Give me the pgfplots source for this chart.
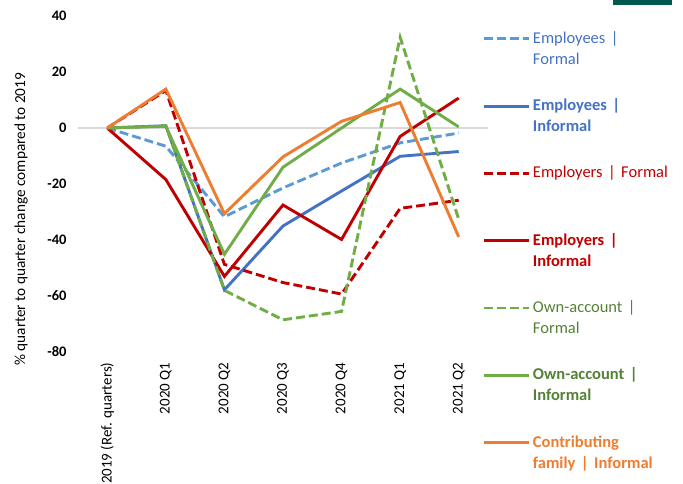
\documentclass[border=0pt]{standalone}
\usepackage{fontspec}
\setmainfont{Carlito}
\usepackage{pgfplots}
\pgfplotsset{compat=1.18}

\definecolor{empF}{HTML}{5B9BD5}
\definecolor{empI}{HTML}{4472C4}
\definecolor{emr}{HTML}{C00000}
\definecolor{own}{HTML}{70AD47}
\definecolor{ownTxt}{HTML}{548235}
\definecolor{fam}{HTML}{ED7D31}
\definecolor{band}{HTML}{005A50}

\begin{document}
\begin{tikzpicture}
\path[use as bounding box] (0,0) rectangle (683pt,-483pt);
\fill[band] (613pt,0pt) rectangle (672pt,-5pt);
\begin{axis}[
  at={(78pt,-352pt)}, anchor=south west,
  scale only axis, width=410pt, height=336pt,
  xmin=-0.5, xmax=6.5, ymin=-80, ymax=40,
  ytick={-80,-60,...,40},
  xtick={0,...,6},
  xticklabels={2019 (Ref. quarters),2020 Q1,2020 Q2,2020 Q3,2020 Q4,2021 Q1,2021 Q2},
  axis line style={draw=none},
  major tick length=0pt,
  /pgf/number format/assume math mode=true,
  yticklabel style={font=\bfseries\fontsize{14.5}{16}\selectfont, xshift=-8pt},
  xticklabel style={rotate=90, anchor=east, font=\fontsize{15}{17}\selectfont, xshift=-7pt},
  ylabel={\% quarter to quarter change compared to 2019},
  ylabel style={font=\fontsize{15.3}{18}\selectfont, at={(axis description cs:-0.139,0.395)}, anchor=center},
  extra y ticks={0}, extra y tick labels={},
  extra y tick style={grid=major, major grid style={draw=black!15, line width=1.3pt}},
  every axis plot/.append style={line width=2.9pt},
  legend style={at={(0.985,0.955)}, anchor=north west, draw=none, fill=none,
    row sep=0pt, column sep=3pt, inner sep=0pt,
    font=\fontsize{16.5}{21}\selectfont,
    nodes={inner sep=0pt, text width=150pt, align=left, text height=12pt, text depth=55.3pt},
    cells={anchor=base west}},
  legend image code/.code={\draw[#1] (0pt,4.5pt) -- (45pt,4.5pt);},
]
\addplot[empF, dash pattern=on 9pt off 4pt] coordinates {(0,0) (1,-6.5) (2,-31.7) (3,-21.4) (4,-12.5) (5,-5.3) (6,-1.8)};
\addlegendentry[text=empI]{Employees |\\Formal}
\addplot[empI] coordinates {(0,0) (1,0.8) (2,-57.8) (3,-35) (4,-22.5) (5,-10.1) (6,-8.4)};
\addlegendentry[text=empI]{\bfseries Employees |\\Informal}
\addplot[emr, dash pattern=on 9pt off 4pt] coordinates {(0,0) (1,13.4) (2,-48.7) (3,-55.2) (4,-59.3) (5,-28.7) (6,-25.8)};
\addlegendentry[text=emr]{Employers | Formal}
\addplot[emr] coordinates {(0,0) (1,-18.4) (2,-53) (3,-27.5) (4,-39.8) (5,-3) (6,10.7)};
\addlegendentry[text=emr]{\bfseries Employers |\\Informal}
\addplot[own, dash pattern=on 9pt off 4pt] coordinates {(0,0) (1,0.8) (2,-58) (3,-68.5) (4,-65.5) (5,32.4) (6,-32.6)};
\addlegendentry[text=ownTxt]{Own-account |\\Formal}
\addplot[own] coordinates {(0,0) (1,0.6) (2,-45.1) (3,-14) (4,0) (5,13.9) (6,0.4)};
\addlegendentry[text=ownTxt]{\bfseries Own-account |\\Informal}
\addplot[fam] coordinates {(0,0) (1,13.9) (2,-30.6) (3,-10.3) (4,2.4) (5,9.1) (6,-38.9)};
\addlegendentry[text=fam]{\bfseries Contributing\\family | Informal}
\end{axis}
\end{tikzpicture}
\end{document}
